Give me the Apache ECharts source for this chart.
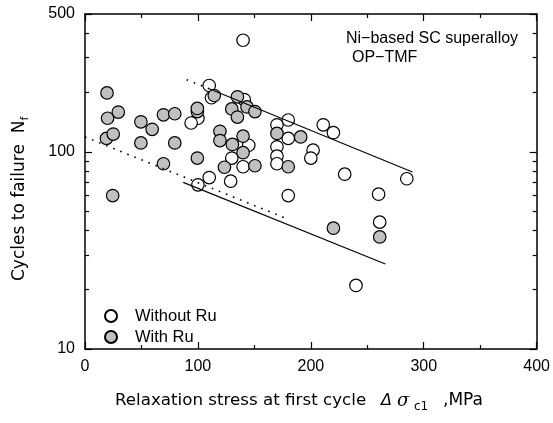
<!DOCTYPE html>
<html><head><meta charset="utf-8">
<script src="https://cdn.jsdelivr.net/npm/echarts@6/dist/echarts.min.js"></script>
<style>html,body{margin:0;padding:0;background:#fff}#c{width:553px;height:423px}</style>
</head><body><div id="c"></div>
<script>
// ---- data ----
const xTickValues = [0, 100, 200, 300, 400];
const yLabelValues = [10, 100, 500];
const yMinorValues = [20, 30, 40, 50, 60, 70, 80, 90, 200, 300, 400];

const withoutRu = [
  [140, 368], [110, 217], [112, 188], [141, 184], [100, 148], [94, 140],
  [180, 145], [170, 137], [180, 117], [170, 106], [145, 108], [170, 95],
  [170, 87], [130, 93], [140, 84], [110, 74], [100, 68], [129, 71],
  [211, 137], [220, 125], [202, 102], [200, 93], [230, 77], [285, 73],
  [180, 60], [260, 61], [261, 44], [240, 21]
];
const withRu = [
  [19.5, 199], [20, 148], [29.5, 159], [19, 117], [25, 123], [49.5, 142],
  [59.5, 130], [49.5, 111], [69.5, 154], [79.5, 156], [79.5, 111], [69.5, 87],
  [99.5, 160], [99.5, 166], [99.5, 93], [114.5, 193], [135, 190], [130, 165],
  [135, 150], [143.5, 169], [150.5, 160], [119.5, 127], [119.5, 114], [130.5, 109],
  [140, 120], [140, 99], [123.5, 83.5], [150.5, 85], [170, 124], [180, 84],
  [191, 119], [24.5, 60], [220, 41], [261, 37]
];
const upperDotted = [[90, 232], [110, 209]];
const upperSolid = [[110, 209], [290, 79]];
const lowerDotted = [[0, 119], [178, 46]];
const lowerSolid = [[87, 70], [266, 27]];

const legendNames = ['Without Ru', 'With Ru'];
const noteLines = ['Ni\u2212based SC superalloy', 'OP\u2212TMF'];

// ---- chart ----
const FONT = '"Liberation Sans", Arial, sans-serif';
const TFONT = '"DejaVu Sans", sans-serif';
const chart = echarts.init(document.getElementById('c'), null, {renderer: 'canvas'});
const axisLine = {show: true, lineStyle: {color: '#000', width: 1.5}};
function xAx(pos, showLabel) {
  return {
    type: 'value', position: pos, min: 0, max: 400, interval: 100,
    axisLine: axisLine,
    axisTick: {show: true, inside: true, length: 7, lineStyle: {color: '#000', width: 1.2}},
    minorTick: {show: true, splitNumber: 2, length: 4, lineStyle: {color: '#000', width: 1.2}},
    axisLabel: {show: showLabel, fontSize: 16, color: '#000', fontFamily: FONT, margin: 10},
    splitLine: {show: false}, minorSplitLine: {show: false}
  };
}
function yAx(pos, major, showLabel) {
  return {
    type: 'log', logBase: 10, position: pos, min: 10, max: 500,
    axisLine: major ? axisLine : {show: false},
    axisTick: {show: true, inside: true, length: major ? 7 : 4,
      customValues: major ? yLabelValues : yMinorValues,
      lineStyle: {color: '#000', width: 1.2}},
    axisLabel: {show: showLabel, fontSize: 16, color: '#000', fontFamily: FONT, margin: 10,
      customValues: yLabelValues},
    splitLine: {show: false}
  };
}

chart.setOption({
  animation: false,
  backgroundColor: '#fff',
  grid: {left: 85, right: 16, top: 14, bottom: 74},
  xAxis: [xAx('bottom', true), xAx('top', false)],
  yAxis: [yAx('left', true, true), yAx('left', false, false), yAx('right', true, false), yAx('right', false, false)],
  legend: {
    orient: 'vertical', left: 104, top: 307.5, padding: 0, itemWidth: 38, itemHeight: 12, itemGap: 4,
    data: legendNames,
    textStyle: {fontSize: 16.5, color: '#000', fontFamily: FONT}
  },
  series: [
    {type: 'line', data: upperDotted, symbol: 'none', silent: true,
      lineStyle: {color: '#000', width: 1.6, type: [1.6, 6]}},
    {type: 'line', data: upperSolid, symbol: 'none', silent: true,
      lineStyle: {color: '#000', width: 1.1}},
    {type: 'line', data: lowerDotted, symbol: 'none', silent: true,
      lineStyle: {color: '#000', width: 1.6, type: [1.6, 6]}},
    {type: 'line', data: lowerSolid, symbol: 'none', silent: true,
      lineStyle: {color: '#000', width: 1.1}},
    {name: legendNames[0], type: 'scatter', data: withoutRu, symbol: 'circle', symbolSize: 12.5,
      itemStyle: {color: '#fff', borderColor: '#000', borderWidth: 1.2, opacity: 1}},
    {name: legendNames[1], type: 'scatter', data: withRu, symbol: 'circle', symbolSize: 12.5,
      itemStyle: {color: '#c0c0c0', borderColor: '#000', borderWidth: 1.2, opacity: 1}}
  ],
  graphic: [
    {type: 'text', left: 346, top: 31, style: {text: noteLines[0], fontSize: 16, fill: '#000', fontFamily: FONT}},
    {type: 'text', left: 352, top: 50, style: {text: noteLines[1], fontSize: 16, fill: '#000', fontFamily: FONT}},
    {type: 'group', x: 20, y: 281, rotation: Math.PI / 2, children: [
      {type: 'text', x: 0, y: 0, style: {
        text: 'Cycles to failure  {n|N}{s|f}', fontSize: 17, fill: '#000', fontFamily: TFONT,
        textVerticalAlign: 'middle', textAlign: 'left',
        rich: {
          n: {fontSize: 17, fontFamily: TFONT, lineHeight: 22},
          s: {fontSize: 11, fontFamily: TFONT, lineHeight: 11, verticalAlign: 'bottom'}
        }
      }}
    ]},
    {type: 'text', x: 115, y: 401, style: {
      text: 'Relaxation stress at first cycle', fontSize: 16.7, fill: '#000',
      fontFamily: TFONT, textVerticalAlign: 'middle', textAlign: 'left'}},
    {type: 'text', x: 381, y: 401, style: {
      text: '\u0394', fontSize: 16, fill: '#000',
      fontFamily: TFONT, fontStyle: 'italic', textVerticalAlign: 'middle', textAlign: 'left'}},
    {type: 'text', x: 397, y: 401, style: {
      text: '\u03c3', fontSize: 18, fill: '#000',
      fontFamily: '"DejaVu Serif", serif', fontStyle: 'italic', textVerticalAlign: 'middle', textAlign: 'left'}},
    {type: 'text', x: 414, y: 407, style: {
      text: 'c1', fontSize: 12, fill: '#000',
      fontFamily: TFONT, textVerticalAlign: 'middle', textAlign: 'left'}},
    {type: 'text', x: 443, y: 401, style: {
      text: ',MPa', fontSize: 17, fill: '#000',
      fontFamily: TFONT, textVerticalAlign: 'middle', textAlign: 'left'}}
  ]
});
</script>
</body></html>
